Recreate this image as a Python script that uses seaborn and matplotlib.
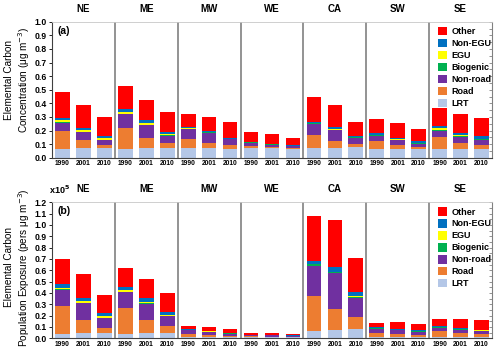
import pandas as pd
import matplotlib.pyplot as plt
import seaborn as sns
from matplotlib.ticker import MultipleLocator

regions = ['NE', 'ME', 'MW', 'WE', 'CA', 'SW', 'SE']
years = ['1990', '2001', '2010']
sources = ['LRT', 'Road', 'Non-road', 'Biogenic', 'EGU', 'Non-EGU', 'Other']
colors = {'LRT': '#b4c7e7', 'Road': '#ed7d31', 'Non-road': '#7030a0',
          'Biogenic': '#00b050', 'EGU': '#ffff00', 'Non-EGU': '#0070c0',
          'Other': '#ff0000'}

# (a) EC concentration (ug m-3), three years per region
conc_lrt = [0.065, 0.068, 0.070, 0.065, 0.068, 0.070, 0.072, 0.072, 0.066,
            0.068, 0.068, 0.066, 0.074, 0.075, 0.076, 0.064, 0.064, 0.064,
            0.062, 0.062, 0.062]
conc_road = [0.130, 0.060, 0.025, 0.155, 0.077, 0.035, 0.063, 0.035, 0.025,
             0.018, 0.012, 0.008, 0.091, 0.048, 0.024, 0.061, 0.027, 0.016,
             0.092, 0.046, 0.029]
conc_nonroad = [0.060, 0.060, 0.035, 0.100, 0.095, 0.055, 0.073, 0.073, 0.044,
                0.024, 0.016, 0.010, 0.081, 0.081, 0.047, 0.037, 0.037, 0.022,
                0.046, 0.046, 0.039]
conc_bio = [0.005, 0.004, 0.003, 0.004, 0.004, 0.004, 0.004, 0.007, 0.003,
            0.003, 0.003, 0.003, 0.006, 0.003, 0.004, 0.003, 0.003, 0.003,
            0.004, 0.004, 0.004]
conc_egu = [0.015, 0.010, 0.010, 0.014, 0.014, 0.008, 0.004, 0.003, 0.002,
            0.001, 0.001, 0.001, 0.002, 0.002, 0.002, 0.003, 0.004, 0.003,
            0.014, 0.010, 0.006]
conc_nonegu = [0.017, 0.016, 0.014, 0.022, 0.022, 0.018, 0.008, 0.004, 0.008,
               0.004, 0.003, 0.003, 0.011, 0.014, 0.009, 0.012, 0.012, 0.012,
               0.012, 0.014, 0.017]
conc_other = [0.188, 0.170, 0.143, 0.170, 0.145, 0.145, 0.096, 0.106, 0.112,
              0.071, 0.072, 0.055, 0.184, 0.162, 0.098, 0.102, 0.108, 0.093,
              0.133, 0.137, 0.133]

# (b) EC population exposure (x10^5 pers ug m-3)
expo_lrt = [0.038, 0.045, 0.045, 0.038, 0.045, 0.045, 0.010, 0.010, 0.010,
            0.008, 0.008, 0.008, 0.064, 0.073, 0.082, 0.012, 0.012, 0.012,
            0.015, 0.015, 0.015]
expo_road = [0.250, 0.116, 0.050, 0.232, 0.120, 0.065, 0.030, 0.018, 0.012,
             0.008, 0.007, 0.005, 0.310, 0.186, 0.108, 0.035, 0.025, 0.017,
             0.050, 0.030, 0.022]
expo_nonroad = [0.142, 0.148, 0.083, 0.136, 0.140, 0.085, 0.030, 0.025, 0.020,
                0.010, 0.012, 0.007, 0.267, 0.315, 0.168, 0.038, 0.033, 0.028,
                0.028, 0.030, 0.025]
expo_bio = [0.004, 0.004, 0.004, 0.004, 0.004, 0.004, 0.003, 0.005, 0.003,
            0.002, 0.002, 0.002, 0.012, 0.012, 0.010, 0.003, 0.004, 0.003,
            0.003, 0.005, 0.004]
expo_egu = [0.012, 0.012, 0.012, 0.012, 0.011, 0.008, 0.002, 0.002, 0.001,
            0.001, 0.001, 0.001, 0.003, 0.002, 0.002, 0.002, 0.003, 0.002,
            0.005, 0.004, 0.006]
expo_nonegu = [0.030, 0.033, 0.026, 0.031, 0.035, 0.028, 0.005, 0.004, 0.005,
               0.003, 0.003, 0.002, 0.030, 0.044, 0.040, 0.007, 0.008, 0.008,
               0.004, 0.005, 0.005]
expo_other = [0.224, 0.207, 0.165, 0.170, 0.165, 0.168, 0.025, 0.033, 0.032,
              0.012, 0.017, 0.013, 0.390, 0.408, 0.296, 0.035, 0.055, 0.053,
              0.068, 0.083, 0.085]

bars = [f'{r} {y}' for r in regions for y in years]

plt.rcParams['font.family'] = ['Liberation Sans', 'DejaVu Sans']


def stacked(ax, parts, ymax):
    df = pd.DataFrame(dict(zip(sources, parts)))
    cum = df.cumsum(axis=1)
    # draw running totals from the top down so each layer shows
    for s in reversed(sources):
        sns.barplot(x=bars, y=cum[s].values, order=bars, color=colors[s],
                    width=0.7, saturation=1, linewidth=0, errorbar=None,
                    label=s, ax=ax)
    for i in range(1, len(regions)):
        ax.axvline(i * 3 - 0.5, color='#808080', lw=1.2)
    for i, r in enumerate(regions):
        ax.annotate(r, (i * 3 + 1, 1), xycoords=('data', 'axes fraction'),
                    xytext=(0, 9.5), textcoords='offset points',
                    ha='center', va='center', fontsize=7, fontweight='bold')
    ax.set_xlim(-0.5, len(bars) - 0.5)
    ax.set_ylim(0, ymax)
    ax.set_xticks(range(len(bars)))
    ax.set_xticklabels(years * len(regions), fontsize=4.8, fontweight='bold')
    ax.tick_params(axis='x', length=0, pad=2)
    ax.yaxis.set_major_locator(MultipleLocator(0.1))
    ax.yaxis.set_major_formatter('{x:.1f}')
    ax.tick_params(axis='y', labelsize=6.2, length=2.5, width=0.6, pad=1.5)
    for t in ax.get_yticklabels():
        t.set_fontweight('bold')
    sec = ax.secondary_yaxis('right')
    sec.yaxis.set_major_locator(MultipleLocator(0.05))
    sec.tick_params(direction='in', length=2, width=0.6, labelright=False,
                    color='#808080')
    sec.spines['right'].set_color('#808080')
    for side in ['left', 'bottom']:
        ax.spines[side].set_color('#404040')
        ax.spines[side].set_linewidth(0.8)
    ax.spines['top'].set_color('#c8c8c8')
    ax.spines['top'].set_linewidth(0.6)
    ax.spines['right'].set_visible(False)
    ax.set_xlabel('')
    ax.legend(loc='upper left', bbox_to_anchor=(0.862, 1.01), frameon=False,
              handlelength=1.05, handleheight=1.05, handletextpad=0.5,
              labelspacing=0.3, borderpad=0.2,
              prop={'size': 6.5, 'weight': 'bold'})


fig = plt.figure(figsize=(5, 3.54), dpi=100)
ax1 = fig.add_axes([0.104, 0.5545, 0.88, 0.3842])
ax2 = fig.add_axes([0.104, 0.0444, 0.88, 0.3842])

stacked(ax1, [conc_lrt, conc_road, conc_nonroad, conc_bio, conc_egu,
              conc_nonegu, conc_other], 1.0)
stacked(ax2, [expo_lrt, expo_road, expo_nonroad, expo_bio, expo_egu,
              expo_nonegu, expo_other], 1.2)

ax1.text(0.012, 0.935, '(a)', transform=ax1.transAxes, fontsize=7.5,
         fontweight='bold', va='center')
ax2.text(0.012, 0.935, '(b)', transform=ax2.transAxes, fontsize=7.5,
         fontweight='bold', va='center')
fig.text(0.098, 0.463, 'x10$^{\\mathbf{5}}$', fontsize=6.5, fontweight='bold',
         va='center')

fig.text(0.036, 0.775, 'Elemental Carbon\nConcentration (μg m$^{-3}$)',
         rotation=90, ha='center', va='center', fontsize=7.2,
         linespacing=1.25)
fig.text(0.036, 0.245, 'Elemental Carbon\nPopulation Exposure (pers μg m$^{-3}$)',
         rotation=90, ha='center', va='center', fontsize=7.2,
         linespacing=1.25)

fig.savefig('out.png', dpi=100)
